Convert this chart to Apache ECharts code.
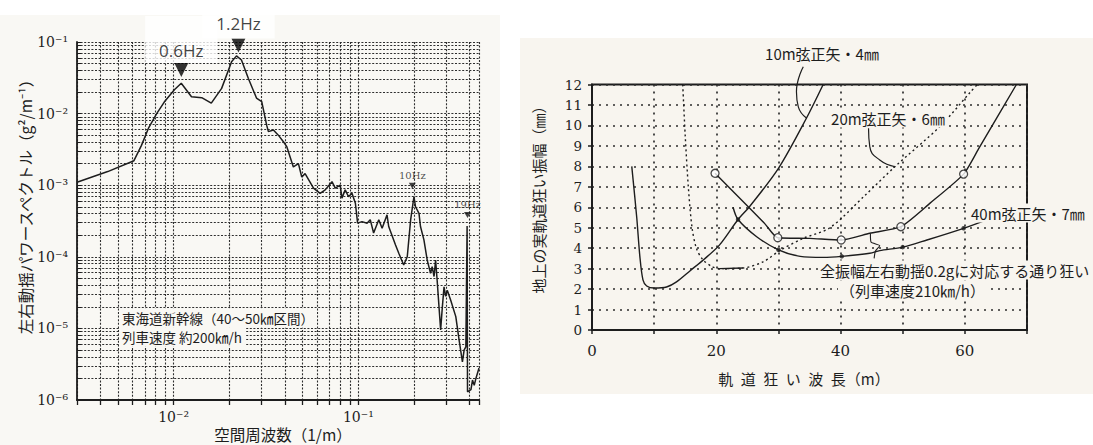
<!DOCTYPE html>
<html>
<head>
<meta charset="utf-8">
<script src="https://cdn.jsdelivr.net/npm/echarts@6/dist/echarts.min.js"></script>
<style>
  html, body { margin: 0; padding: 0; background: #ffffff; }
  #chart { width: 1093px; height: 445px; }
</style>
</head>
<body>
<div id="chart"></div>
<script>
// ---- Left panel: lateral vibration power spectrum (Tokaido Shinkansen) ----
const spectrumFreq = [0.003, 0.0044, 0.0061, 0.0067, 0.0073, 0.0081, 0.0089, 0.0101, 0.0110, 0.0125,
  0.0142, 0.0160, 0.0182, 0.0206, 0.0219, 0.0233, 0.0254, 0.0281, 0.0300, 0.0319,
  0.0326, 0.0347, 0.0369, 0.0393, 0.0410, 0.0445, 0.0474, 0.0494, 0.0515, 0.0572,
  0.0621, 0.0662, 0.0720, 0.0750, 0.0798, 0.0815, 0.0849, 0.0885, 0.0924, 0.0964,
  0.0991, 0.1047, 0.1115, 0.116, 0.121, 0.129, 0.1345, 0.143, 0.146, 0.159,
  0.1656, 0.176, 0.184, 0.192, 0.200, 0.204, 0.213, 0.217, 0.2265, 0.236,
  0.246, 0.251, 0.257, 0.262, 0.267, 0.279, 0.285, 0.291, 0.297, 0.303,
  0.316, 0.337, 0.351, 0.366, 0.374, 0.382, 0.388, 0.390, 0.407, 0.415,
  0.424, 0.433, 0.45];
const spectrumPower = [1.1e-3, 1.55e-3, 2.2e-3, 3.6e-3, 6.2e-3, 1.0e-2, 1.45e-2, 2.15e-2, 2.65e-2, 1.72e-2,
  1.67e-2, 1.40e-2, 2.25e-2, 5.3e-2, 6.4e-2, 5.6e-2, 3.1e-2, 1.65e-2, 1.47e-2, 6.9e-3,
  5.6e-3, 5.9e-3, 5.0e-3, 4.05e-3, 3.45e-3, 1.8e-3, 2.0e-3, 1.3e-3, 1.45e-3, 9.1e-4,
  7.7e-4, 8.6e-4, 1.12e-3, 9.1e-4, 1.0e-3, 6.6e-4, 8.6e-4, 6.9e-4, 7.7e-4, 5.6e-4,
  2.95e-4, 3.1e-4, 2.95e-4, 3.3e-4, 2.15e-4, 3.3e-4, 2.5e-4, 3.85e-4, 2.65e-4, 1.46e-4,
  1.12e-4, 7.7e-5, 1.0e-4, 3.3e-4, 6.9e-4, 5.0e-4, 4.05e-4, 2.65e-4, 1.72e-4, 9.0e-5,
  5.9e-5, 7.3e-5, 5.3e-5, 9.0e-5, 4.75e-5, 9.5e-6, 2.0e-5, 3.8e-5, 2.8e-5, 3.4e-5,
  2.5e-5, 1.46e-5, 6.9e-6, 3.4e-6, 5.0e-6, 5.5e-6, 2.7e-4, 1.3e-6, 1.4e-6, 1.9e-6,
  1.6e-6, 2.0e-6, 2.8e-6];

// Highlighted peaks (big arrows) and harmonic marks (small arrows)
const peakFreq = [0.01101, 0.02244];
const peakPower = [0.0406, 0.0894];
const peakNames = ['0.6Hz', '1.2Hz'];
const harmonicFreq = [0.196, 0.39];
const harmonicPower = [9.8e-4, 3.84e-4];
const harmonicNames = ['10Hz', '19Hz'];

// Log-axis ticks
const freqLabelTicks = [0.01, 0.1];
const powerLabelTicks = [1e-6, 1e-5, 1e-4, 1e-3, 1e-2, 1e-1];
const logSteps = [1, 2, 3, 4, 5, 6, 7, 8, 9];

// ---- Right panel: track irregularity amplitude vs. wavelength ----
const chord10X = [6.4, 7.2, 7.7, 8.2, 8.8, 10, 12, 13.6, 15.8, 18, 20.5, 23.5, 25.4, 30, 34.5, 37.2];
const chord10Y = [8.0, 5.5, 3.6, 2.45, 2.15, 2.05, 2.1, 2.35, 2.9, 3.45, 4.15, 5.4, 6.05, 7.9, 10.35, 12];

const chord20X = [14.6, 15.0, 15.5, 16.1, 16.8, 17.8, 19.3, 20.5, 24.3, 27.6, 30.3, 34, 38.3, 44, 48.8, 56, 60.8, 62];
const chord20Y = [12, 9.5, 7.0, 5.0, 4.0, 3.45, 3.1, 3.0, 3.03, 3.34, 3.9, 4.48, 5.0, 6.6, 8.0, 9.95, 11.6, 12];
const chord20SolidFrom = 7, chord20SolidTo = 8;   // short solid stretch near the minimum

const chord40X = [22.7, 23.5, 26.5, 30, 33.5, 37.2, 40.2, 44.7, 46.3, 50, 53.9, 59.8, 63.5];
const chord40Y = [6.0, 5.4, 4.56, 3.92, 3.6, 3.55, 3.6, 3.75, 3.88, 4.05, 4.4, 4.97, 5.38];
const chord40Knots = [1, 3, 6, 9, 11];

const accelX = [19.8, 24.9, 27.8, 29.9, 35, 40.1, 44.7, 49.7, 54.4, 59.8, 62.2, 68.3];
const accelY = [7.66, 6.1, 5.2, 4.51, 4.48, 4.4, 4.73, 5.05, 6.2, 7.62, 8.85, 12];
const accelKnots = [0, 3, 5, 7, 9];

// Callout leaders (data space of the right panel)
const leader10X = [34.0, 32.9, 33.2, 34.55];
const leader10Y = [12.87, 11.65, 10.91, 10.35];
const leader20X = [44.5, 44.7, 46.3, 48.8];
const leader20Y = [9.86, 8.96, 8.31, 7.98];
const leaderAccX = [44.8, 44.9, 46.3, 45.6, 45.4];
const leaderAccY = [4.72, 4.3, 4.12, 3.85, 3.5];

// ---- helpers ----
const INK = '#1d1d1d';
const GRID_INK = '#2e2e2e';
const PAPER_L = '#f9f8f4';
const PAPER_R = '#f8f5ef';
const SERIF = "'DejaVu Serif', 'Liberation Serif', serif";
const JP = "'Noto Sans CJK JP', 'Noto Sans', sans-serif";

const zip = (xs, ys) => xs.map((x, i) => [x, ys[i]]);
const pick = (xs, ys, idx) => idx.map(i => [xs[i], ys[i]]);

function logGrid(lo, hi, fromExp, toExp) {
  const out = [];
  for (let e = fromExp; e <= toExp; e++) {
    for (const s of logSteps) {
      const v = +(s * Math.pow(10, e)).toPrecision(6);
      if (v >= lo * 0.999 && v <= hi * 1.001) out.push(v);
    }
  }
  return out;
}
const freqGridTicks = logGrid(0.003, 0.45, -3, -1).concat([0.45]);
const powerGridTicks = logGrid(1e-6, 1e-1, -6, -1);

const SUP = { '-': '\u207B', '0': '\u2070', '1': '\u00B9', '2': '\u00B2', '3': '\u00B3',
  '4': '\u2074', '5': '\u2075', '6': '\u2076', '7': '\u2077', '8': '\u2078', '9': '\u2079' };
function powLabel(v) {
  const e = Math.round(Math.log10(v));
  return '10' + String(e).split('').map(c => SUP[c]).join('');
}

const chart = echarts.init(document.getElementById('chart'), null, { renderer: 'svg' });

const dotted = { color: GRID_INK, type: [2, 1.6], width: 1.1 };
const sparseDots = { color: GRID_INK, type: [2, 5], width: 1.7 };

const option = {
  backgroundColor: '#ffffff',
  animation: false,
  grid: [
    { left: 77, top: 42, width: 402, height: 358, show: false },
    { left: 592, top: 84.5, width: 435, height: 245.5, show: true,
      borderColor: INK, borderWidth: 2, backgroundColor: 'transparent' }
  ],
  xAxis: [
    {
      type: 'log', gridIndex: 0, min: 0.003, max: 0.45, logBase: 10,
      axisLine: { show: true, lineStyle: { color: INK, width: 1.8 } },
      axisTick: { show: true, customValues: freqGridTicks, length: 5, lineStyle: { color: INK, width: 1.3 } },
      axisLabel: { customValues: freqLabelTicks, formatter: powLabel, fontFamily: SERIF,
                   fontSize: 14, color: INK, margin: 10 },
      splitLine: { show: true, lineStyle: dotted }
    },
    {
      type: 'value', gridIndex: 1, min: 0, max: 70, interval: 10,
      axisLine: { show: true, lineStyle: { color: INK, width: 2 } },
      axisTick: { show: true, length: 4, lineStyle: { color: INK, width: 1.5 } },
      axisLabel: { formatter: v => (v % 20 === 0 && v < 70 ? String(v) : ''),
                   fontFamily: SERIF, fontSize: 15, color: INK, margin: 13 },
      splitLine: { show: true, lineStyle: sparseDots }
    }
  ],
  yAxis: [
    {
      type: 'log', gridIndex: 0, min: 1e-6, max: 1e-1, logBase: 10,
      axisLine: { show: true, lineStyle: { color: INK, width: 1.8 } },
      axisTick: { show: true, inside: true, customValues: powerGridTicks, length: 4, lineStyle: { color: INK } },
      axisLabel: { customValues: powerLabelTicks, formatter: powLabel, fontFamily: SERIF,
                   fontSize: 14, color: INK, margin: 9 },
      splitLine: { show: true, lineStyle: dotted }
    },
    {
      type: 'value', gridIndex: 1, min: 0, max: 12, interval: 1,
      axisLine: { show: true, lineStyle: { color: INK, width: 2 } },
      axisTick: { show: true, length: 4, lineStyle: { color: INK, width: 1.5 } },
      axisLabel: { fontFamily: SERIF, fontSize: 13.5, color: INK, margin: 10 },
      splitLine: { show: true, lineStyle: sparseDots }
    }
  ],
  series: [
    // spectrum curve
    {
      type: 'line', xAxisIndex: 0, yAxisIndex: 0, data: zip(spectrumFreq, spectrumPower),
      showSymbol: false, lineStyle: { color: INK, width: 1.5 }, z: 5, silent: true
    },
    // peak arrows with captions
    {
      type: 'scatter', xAxisIndex: 0, yAxisIndex: 0, z: 8, silent: true,
      symbol: 'triangle', symbolRotate: 180, symbolSize: [14, 14],
      itemStyle: { color: '#000' },
      data: peakFreq.map((f, i) => ({
        value: [f, peakPower[i]], name: peakNames[i],
        label: {
          show: true, position: 'top', distance: 0, formatter: '{b}',
          fontFamily: "'Open Sans', 'Lato', sans-serif", fontSize: 17, color: '#111',
          backgroundColor: '#ffffff',
          padding: i === 0 ? [26, 14, 4, 14] : [14, 14, 6, 14]
        }
      }))
    },
    // harmonic arrows
    {
      type: 'scatter', xAxisIndex: 0, yAxisIndex: 0, z: 8, silent: true,
      symbol: 'triangle', symbolRotate: 180, symbolSize: [7, 6],
      itemStyle: { color: '#111' },
      data: harmonicFreq.map((f, i) => ({ value: [f, harmonicPower[i]], name: harmonicNames[i] })),
      label: { show: true, position: 'top', distance: 2, formatter: '{b}',
               fontFamily: SERIF, fontSize: 10, color: INK }
    },

    // 10 m chord versine 4 mm
    {
      type: 'line', xAxisIndex: 1, yAxisIndex: 1, data: zip(chord10X, chord10Y), smooth: 0.3,
      showSymbol: false, lineStyle: { color: INK, width: 1.4 }, z: 5, silent: true
    },
    // 20 m chord versine 6 mm (dotted)
    {
      type: 'line', xAxisIndex: 1, yAxisIndex: 1, data: zip(chord20X, chord20Y), smooth: 0.3,
      showSymbol: false, lineStyle: { color: INK, width: 1.4, type: [2, 3] }, z: 5, silent: true
    },
    {
      type: 'line', xAxisIndex: 1, yAxisIndex: 1,
      data: zip(chord20X, chord20Y).slice(chord20SolidFrom, chord20SolidTo + 1),
      showSymbol: false, lineStyle: { color: INK, width: 1.4 }, z: 5, silent: true
    },
    // 40 m chord versine 7 mm
    {
      type: 'line', xAxisIndex: 1, yAxisIndex: 1, data: zip(chord40X, chord40Y), smooth: 0.3,
      showSymbol: false, lineStyle: { color: INK, width: 1.4 }, z: 5, silent: true, clip: false
    },
    {
      type: 'scatter', xAxisIndex: 1, yAxisIndex: 1, data: pick(chord40X, chord40Y, chord40Knots),
      symbol: 'circle', symbolSize: 4.5, itemStyle: { color: INK }, z: 7, silent: true
    },
    // track irregularity matching 0.2 g full-amplitude lateral vibration
    {
      type: 'line', xAxisIndex: 1, yAxisIndex: 1, data: zip(accelX, accelY), smooth: 0.2,
      showSymbol: false, lineStyle: { color: INK, width: 1.4 }, z: 5, silent: true
    },
    {
      type: 'scatter', xAxisIndex: 1, yAxisIndex: 1, data: pick(accelX, accelY, accelKnots),
      symbol: 'circle', symbolSize: 8,
      itemStyle: { color: '#ffffff', borderColor: INK, borderWidth: 1.3 }, z: 7, silent: true
    },
    // callout leaders
    {
      type: 'line', xAxisIndex: 1, yAxisIndex: 1, data: zip(leader10X, leader10Y), smooth: 0.5,
      showSymbol: false, lineStyle: { color: INK, width: 1.2 }, z: 6, silent: true, clip: false
    },
    {
      type: 'line', xAxisIndex: 1, yAxisIndex: 1, data: zip(leader20X, leader20Y), smooth: 0.5,
      showSymbol: false, lineStyle: { color: INK, width: 1.2 }, z: 6, silent: true, clip: false
    },
    {
      type: 'line', xAxisIndex: 1, yAxisIndex: 1, data: zip(leaderAccX, leaderAccY), smooth: 0.2,
      showSymbol: false, lineStyle: { color: INK, width: 1.1 }, z: 6, silent: true, clip: false
    }
  ],
  graphic: {
    elements: [
      // paper tone of the two panels
      { type: 'rect', z: -100, silent: true, shape: { x: 0, y: 15, width: 500, height: 430 },
        style: { fill: PAPER_L } },
      { type: 'rect', z: -100, silent: true, shape: { x: 520, y: 38, width: 573, height: 356 },
        style: { fill: PAPER_R } },

      // left panel titles and note
      { type: 'text', z: 100, silent: true, x: 25, y: 203, rotation: Math.PI / 2,
        style: { text: '左右動揺パワースペクトル（g²/m⁻¹）', font: '15.5px ' + JP, fill: INK,
                 align: 'center', verticalAlign: 'middle' } },
      { type: 'text', z: 100, silent: true, x: 283, y: 434,
        style: { text: '空間周波数（1/m）', font: '15.5px ' + JP, fill: INK,
                 align: 'center', verticalAlign: 'middle' } },
      { type: 'text', z: 100, silent: true, x: 119, y: 318,
        style: { text: '東海道新幹線（40〜50㎞区間）', font: '13.5px ' + JP, fill: INK,
                 align: 'left', verticalAlign: 'middle', backgroundColor: PAPER_L, padding: [3, 3] } },
      { type: 'text', z: 100, silent: true, x: 119, y: 337,
        style: { text: '列車速度 約200㎞/h', font: '13.5px ' + JP, fill: INK,
                 align: 'left', verticalAlign: 'middle', backgroundColor: PAPER_L, padding: [3, 3] } },

      // right panel titles and callouts
      { type: 'text', z: 100, silent: true, x: 538, y: 196, rotation: Math.PI / 2,
        style: { text: '地上の実軌道狂い振幅（㎜）', font: '15px ' + JP, fill: INK,
                 align: 'center', verticalAlign: 'middle' } },
      { type: 'text', z: 100, silent: true, x: 804, y: 378,
        style: { text: '軌\u2002道\u2002狂\u2002い\u2002波\u2002長（m）', font: '15px ' + JP, fill: INK,
                 align: 'center', verticalAlign: 'middle' } },
      { type: 'text', z: 100, silent: true, x: 822, y: 53,
        style: { text: '10m弦正矢・4㎜', font: '15px ' + JP, fill: INK,
                 align: 'center', verticalAlign: 'middle' } },
      { type: 'text', z: 100, silent: true, x: 888, y: 118,
        style: { text: '20m弦正矢・6㎜', font: '15px ' + JP, fill: INK,
                 align: 'center', verticalAlign: 'middle', backgroundColor: PAPER_R, padding: [2, 3] } },
      { type: 'text', z: 100, silent: true, x: 968, y: 213,
        style: { text: '40m弦正矢・7㎜', font: '15px ' + JP, fill: INK,
                 align: 'left', verticalAlign: 'middle', backgroundColor: PAPER_R, padding: [2, 3] } },
      { type: 'text', z: 100, silent: true, x: 818, y: 270,
        style: { text: '全振幅左右動揺0.2gに対応する通り狂い', font: '15px ' + JP, fill: INK,
                 align: 'left', verticalAlign: 'middle', backgroundColor: PAPER_R, padding: [2, 2] } },
      { type: 'text', z: 100, silent: true, x: 838, y: 290,
        style: { text: '（列車速度210㎞/h）', font: '15px ' + JP, fill: INK,
                 align: 'left', verticalAlign: 'middle', backgroundColor: PAPER_R, padding: [2, 2] } }
    ]
  }
};

chart.setOption(option);
</script>
</body>
</html>
